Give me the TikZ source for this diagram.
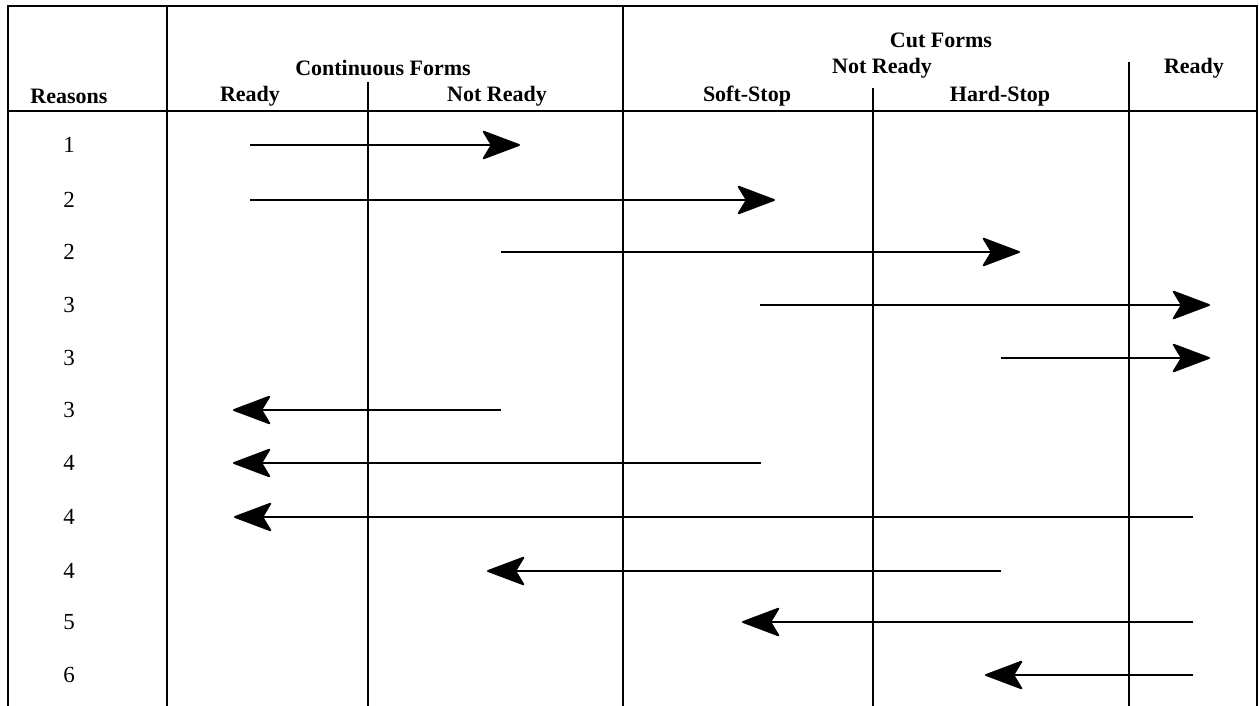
\documentclass[tikz,border=0pt]{standalone}
\usepackage{fontspec}
\setmainfont{Liberation Serif}
\usetikzlibrary{arrows.meta}
\begin{document}
\begin{tikzpicture}[x=0.5pt,y=-0.5pt,
  grid/.style={line width=1.1pt},
  lbl/.style={font=\fontsize{11}{13}\selectfont\bfseries, inner sep=0pt},
  num/.style={font=\fontsize{11.5}{13}\selectfont, inner sep=0pt},
  flow/.style={line width=0.9pt,-{Stealth[length=20pt,width=15pt,inset=4.5pt,round]}}]
\useasboundingbox (0,0) rectangle (1259,706);
% frame and grid
\draw[grid] (8,706) -- (8,6) -- (1257,6) -- (1257,706);
\draw[grid] (8,111) -- (1257,111);
\draw[grid] (167,6) -- (167,706);
\draw[grid] (623,6) -- (623,706);
\draw[grid] (368,82) -- (368,706);
\draw[grid] (873,88) -- (873,706);
\draw[grid] (1129,62) -- (1129,706);
% header text
\node[lbl] (reasons) at (69,96) {Reasons};
\node[lbl] (cont) at (383,68) {Continuous Forms};
\node[lbl] (cready) at (250,96) {Ready};
\node[lbl] (cnot) at (497,96) {Not Ready};
\node[lbl] (cut) at (941,40) {Cut Forms};
\node[lbl] (knot) at (882,68) {Not Ready};
\node[lbl] (soft) at (747,96) {Soft-Stop};
\node[lbl] (hard) at (1000,96) {Hard-Stop};
\node[lbl] (kready) at (1194,68) {Ready};
% row numbers
\node[num] (r1) at (69,145) {1};
\node[num] (r2) at (69,200) {2};
\node[num] (r3) at (69,252) {2};
\node[num] (r4) at (69,305) {3};
\node[num] (r5) at (69,358) {3};
\node[num] (r6) at (69,410) {3};
\node[num] (r7) at (69,463) {4};
\node[num] (r8) at (69,517) {4};
\node[num] (r9) at (69,571) {4};
\node[num] (r10) at (69,622) {5};
\node[num] (r11) at (69,675) {6};
% arrow endpoints
\coordinate (a1s) at (250,145);  \coordinate (a1e) at (520,145);
\coordinate (a2s) at (250,200);  \coordinate (a2e) at (775,200);
\coordinate (a3s) at (501,252);  \coordinate (a3e) at (1020,252);
\coordinate (a4s) at (760,305);  \coordinate (a4e) at (1210,305);
\coordinate (a5s) at (1001,358); \coordinate (a5e) at (1210,358);
\coordinate (a6s) at (501,410);  \coordinate (a6e) at (233,410);
\coordinate (a7s) at (761,463);  \coordinate (a7e) at (233,463);
\coordinate (a8s) at (1193,517); \coordinate (a8e) at (234,517);
\coordinate (a9s) at (1001,571); \coordinate (a9e) at (487,571);
\coordinate (a10s) at (1193,622); \coordinate (a10e) at (742,622);
\coordinate (a11s) at (1193,675); \coordinate (a11e) at (985,675);
\foreach \i in {1,...,11} {\draw[flow] (a\i s) -- (a\i e);}
\end{tikzpicture}
\end{document}
